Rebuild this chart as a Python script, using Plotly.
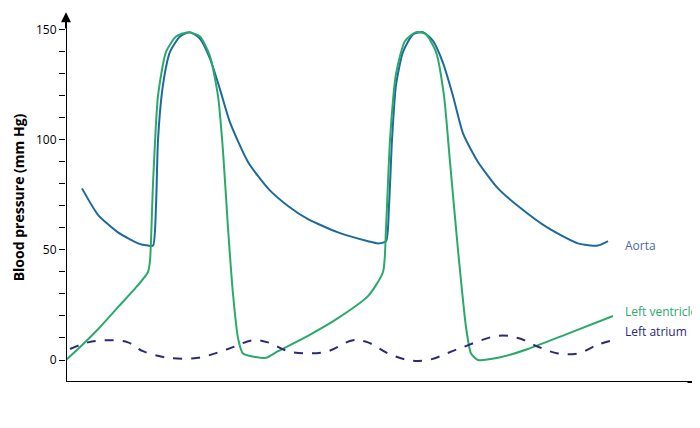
import plotly.graph_objects as go

# time in arbitrary units, pressure in mm Hg
aorta_t = [16, 32, 52, 72, 82, 87, 90, 92, 97, 104, 114, 124, 134, 144, 154, 164, 182, 202, 222, 242, 272,
           302, 312, 320, 323, 326, 330, 337, 347, 357, 367, 377, 387, 397, 412, 432, 452, 482, 512, 532, 542]
aorta_p = [78, 66, 58, 53, 52, 52, 70, 100, 125, 140, 147, 149, 146, 137, 123, 108, 90, 78, 70, 64, 58,
           54, 53, 54, 70, 100, 125, 140, 148, 149, 145, 135, 120, 103, 90, 78, 70, 60, 53, 52, 54]
lv_t = [0, 12, 32, 52, 72, 82, 84, 87, 92, 100, 110, 122, 134, 144, 152, 157, 162, 167, 172, 177, 200,
        212, 242, 272, 302, 317, 320, 324, 330, 339, 350, 360, 370, 378, 384, 392, 400, 405, 412, 432, 462, 502, 547]
lv_p = [0, 5, 14, 24, 34, 40, 45, 80, 120, 140, 147, 149, 147, 138, 120, 95, 60, 30, 10, 3, 1,
        4, 11, 19, 29, 40, 60, 100, 130, 145, 149, 148, 140, 120, 90, 50, 15, 3, 0, 1, 5, 12, 20]
la_t = [4, 22, 42, 62, 77, 102, 132, 162, 187, 202, 222, 242, 262, 287, 302, 322, 342, 362, 392, 432, 452, 472,
        492, 512, 532, 547]
la_p = [5, 8, 9, 8, 4, 1, 1, 5, 9, 8, 4, 3, 4, 9, 8, 3, 0, 0, 5, 11, 10, 6, 3, 3, 7, 9]
marker_t = [84, 124, 188, 248, 293]
marker_labels = ["A", "B", "C", "D", "E"]

fig = go.Figure()
fig.add_trace(go.Scatter(x=aorta_t, y=aorta_p, mode="lines", line=dict(color="#1d6a9c", width=2, shape="spline", smoothing=0.6)))
fig.add_trace(go.Scatter(x=lv_t, y=lv_p, mode="lines", line=dict(color="#2aaa6a", width=2, shape="spline", smoothing=0.6)))
fig.add_trace(go.Scatter(x=la_t, y=la_p, mode="lines", line=dict(color="#2b2a78", width=2, dash="dash", shape="spline")))

for t, lab in zip(marker_t, marker_labels):
    fig.add_annotation(x=t, y=-14.5, ax=t, ay=-24.5, xref="x", yref="y", axref="x", ayref="y",
                       showarrow=True, arrowhead=2, arrowsize=1, arrowwidth=1.5, arrowcolor="black", text="")
    fig.add_annotation(x=t, y=-29, xref="x", yref="y", text=lab, showarrow=False,
                       font=dict(size=12, color="black"), yanchor="middle")

fig.add_annotation(x=378, y=-18.5, text="<b>Time</b>", showarrow=False, font=dict(size=12, color="black"))
fig.add_annotation(x=557, y=52, text="Aorta", showarrow=False, xanchor="left", font=dict(size=12, color="#4a6aa8"))
fig.add_annotation(x=557, y=22, text="Left ventricle", showarrow=False, xanchor="left", font=dict(size=12, color="#2aaa6a"))
fig.add_annotation(x=557, y=13, text="Left atrium", showarrow=False, xanchor="left", font=dict(size=12, color="#2b2a78"))
# axis arrowheads
fig.add_annotation(x=640, y=-10, ax=620, ay=-10, xref="x", yref="y", axref="x", ayref="y",
                   showarrow=True, arrowhead=2, arrowwidth=2, arrowcolor="black", text="")
fig.add_annotation(x=0, y=158, ax=0, ay=150, xref="x", yref="y", axref="x", ayref="y",
                   showarrow=True, arrowhead=2, arrowwidth=2, arrowcolor="black", text="")

ticks = list(range(0, 151, 10))
fig.update_layout(
    width=700, height=428, showlegend=False,
    paper_bgcolor="white", plot_bgcolor="white",
    margin=dict(l=58, r=0, t=5, b=54),
    font=dict(family="Open Sans, Lato, sans-serif", size=12, color="black"),
    xaxis=dict(range=[0, 642], showgrid=False, zeroline=False, showticklabels=False,
               showline=False),
    yaxis=dict(range=[-10, 157.7], showgrid=False, zeroline=False, tickvals=ticks,
               ticktext=[str(v) if v % 50 == 0 else "" for v in ticks],
               ticks="outside", ticklen=6, tickcolor="black", showline=False,
               title=dict(text="<b>Blood pressure (mm Hg)</b>", standoff=8)),
)
fig.add_shape(type="line", x0=0, x1=636, y0=-10, y1=-10, xref="x", yref="y", line=dict(color="black", width=2))
fig.add_shape(type="line", x0=0, x1=0, y0=-10, y1=154, xref="x", yref="y", line=dict(color="black", width=2))
fig.write_html("out.html")
